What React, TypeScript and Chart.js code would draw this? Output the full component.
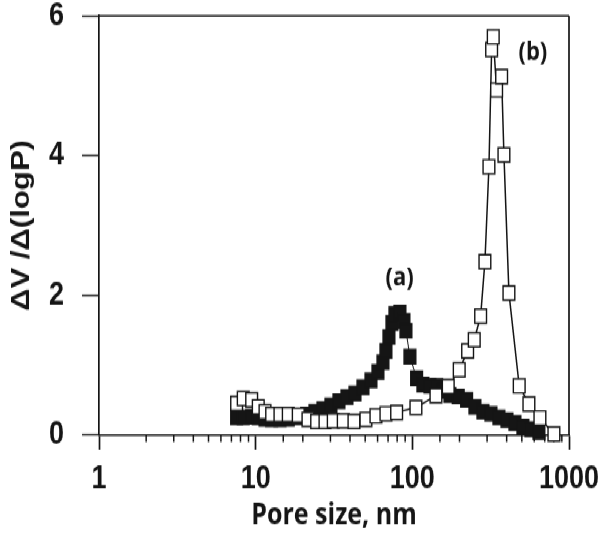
import React, { useEffect, useRef } from "react";
import { Chart, registerables } from "chart.js";

Chart.register(...registerables);

// Series (a): filled squares
const poreSizeA = [
  7.56, 8.33, 9.43, 10.39, 11.47, 12.65, 14.29, 16.15, 18.7, 21.16, 23.9, 26.89,
  30.23, 34.01, 38.25, 43.03, 48.4, 54.43, 60.33, 64.93, 67.84, 70.9, 74.1, 77.44,
  83.35, 88.39, 91.03, 96.54, 106.5, 116.8, 129.5, 142.9, 156.8, 173.8, 196.3,
  222.1, 250.9, 282.2, 317.5, 357.0, 401.7, 451.7, 508.0, 571.3, 642.6,
];
const dvA = [
  0.25, 0.25, 0.26, 0.25, 0.23, 0.22, 0.22, 0.23, 0.25, 0.29, 0.33, 0.37,
  0.42, 0.48, 0.54, 0.59, 0.68, 0.78, 0.9, 1.04, 1.2, 1.4, 1.6, 1.73,
  1.75, 1.63, 1.49, 1.12, 0.81, 0.72, 0.7, 0.7, 0.63, 0.57, 0.55,
  0.5, 0.4, 0.33, 0.3, 0.25, 0.21, 0.17, 0.12, 0.08, 0.04,
];

// Series (b): open squares with line
const poreSizeB = [
  7.56, 8.33, 9.43, 10.39, 11.47, 12.65, 14.29, 16.15, 18.7, 21.57, 24.51, 27.7,
  31.28, 36.23, 42.4, 50.56, 58.57, 67.84, 79.4, 105.4, 141.5, 169.5, 199.2,
  225.4, 248.4, 272.9, 290.6, 308.3, 320.7, 328.4, 345.1, 371.5, 384.3, 413.6,
  481.1, 554.7, 652.2, 801.1,
];
const dvB = [
  0.45, 0.52, 0.5, 0.4, 0.33, 0.29, 0.29, 0.29, 0.28, 0.22, 0.19, 0.19,
  0.2, 0.2, 0.19, 0.22, 0.27, 0.3, 0.32, 0.39, 0.56, 0.69, 0.93,
  1.2, 1.36, 1.7, 2.48, 3.84, 5.52, 5.7, 4.94, 5.13, 4.01, 2.03,
  0.7, 0.44, 0.24, 0.01,
];

const xTickLabels = [1, 10, 100, 1000];
const yTickStep = 2;
const xTitle = "Pore size, nm";
const yTitle = "\u0394V /\u0394(logP)";
const seriesLabels = ["(a)", "(b)"];
const seriesLabelAt = [
  { x: 83, y: 2.24 },
  { x: 588, y: 5.47 },
];

const W = 600;
const H = 446;
const SY = 535 / H;
const INK = "#151515";

const isPow10 = (v: number) => {
  const l = Math.log10(v);
  return Math.abs(l - Math.round(l)) < 1e-9;
};

const framePlugin = {
  id: "frame",
  beforeDatasetsDraw(chart: any) {
    const { ctx, chartArea, scales } = chart;
    const { left, right, top, bottom } = chartArea;
    const x = scales.x;
    const y = scales.y;
    ctx.save();
    ctx.strokeStyle = INK;
    ctx.lineWidth = 1.4;
    ctx.beginPath();
    ctx.moveTo(left, top);
    ctx.lineTo(right, top);
    ctx.stroke();
    ctx.lineWidth = 1.7;
    ctx.beginPath();
    ctx.moveTo(right, top);
    ctx.lineTo(right, bottom);
    ctx.stroke();
    ctx.lineWidth = 1.5;
    for (const t of x.ticks) {
      if (isPow10(t.value)) continue;
      const px = x.getPixelForValue(t.value);
      ctx.beginPath();
      ctx.moveTo(px, bottom);
      ctx.lineTo(px, bottom + 6);
      ctx.stroke();
    }
    ctx.fillStyle = INK;
    ctx.font = 'bold 22px "Open Sans"';
    ctx.textAlign = "center";
    ctx.textBaseline = "middle";
    seriesLabels.forEach((s, i) => {
      ctx.fillText(
        s,
        x.getPixelForValue(seriesLabelAt[i].x),
        y.getPixelForValue(seriesLabelAt[i].y)
      );
    });
    ctx.restore();
  },
};

export default function App() {
  const ref = useRef<HTMLCanvasElement | null>(null);
  useEffect(() => {
    if (!ref.current) return;
    const toPts = (xs: number[], ys: number[]) => xs.map((v, i) => ({ x: v, y: ys[i] }));
    const chart = new Chart(ref.current, {
      type: "scatter",
      data: {
        datasets: [
          {
            label: "b",
            data: toPts(poreSizeB, dvB),
            showLine: true,
            borderColor: INK,
            borderWidth: 1.5,
            pointStyle: "rect",
            pointRadius: 8.3,
            pointBackgroundColor: "#ffffff",
            pointBorderColor: INK,
            pointBorderWidth: 1.4,
            order: 0,
            clip: false,
          } as any,
          {
            label: "a",
            data: toPts(poreSizeA, dvA),
            showLine: true,
            borderColor: INK,
            borderWidth: 1,
            pointStyle: "rect",
            pointRadius: 8.3,
            pointBackgroundColor: INK,
            pointBorderColor: INK,
            pointBorderWidth: 1.4,
            order: 1,
            clip: false,
          } as any,
        ],
      },
      options: {
        responsive: false,
        animation: false,
        devicePixelRatio: 1,
        layout: { padding: { top: 13.3, right: 31, left: 0, bottom: 0 } },
        plugins: { legend: { display: false }, tooltip: { enabled: false } },
        scales: {
          x: {
            type: "logarithmic",
            min: 1,
            max: 1000,
            afterFit: (s: any) => {
              s.height = H - 362.5;
              s.paddingLeft = 0;
              s.paddingRight = 0;
            },
            ticks: {
              autoSkip: false,
              maxRotation: 0,
              minRotation: 0,
              padding: 8,
              color: INK,
              font: { family: '"Liberation Sans", Arial, sans-serif', size: 27, weight: "bold" },
              callback: (v: any) => (xTickLabels.includes(Number(v)) ? String(v) : ""),
            },
            grid: {
              drawOnChartArea: false,
              drawTicks: true,
              tickLength: 12.5,
              tickWidth: 1.7,
              tickColor: (c: any) => (c.tick && isPow10(c.tick.value) ? INK : "rgba(0,0,0,0)"),
            },
            border: { display: true, color: INK, width: 1.4 },
            title: {
              display: true,
              text: xTitle,
              color: INK,
              font: { family: '"Open Sans", sans-serif', size: 25, weight: "bold" },
              padding: { top: 0, bottom: 1 },
            },
          },
          y: {
            type: "linear",
            min: 0,
            max: 6,
            afterFit: (s: any) => {
              s.width = 99;
              s.paddingTop = 0;
              s.paddingBottom = 0;
            },
            ticks: {
              stepSize: yTickStep,
              padding: 18,
              color: INK,
              font: { family: '"Liberation Sans", Arial, sans-serif', size: 27, weight: "bold" },
            },
            grid: {
              drawOnChartArea: false,
              drawTicks: true,
              tickLength: 17,
              tickWidth: 1.4,
              tickColor: INK,
            },
            border: { display: true, color: INK, width: 1.7 },
            title: {
              display: true,
              text: yTitle,
              color: INK,
              font: { family: '"Liberation Sans", Arial, sans-serif', size: 26, weight: "bold" },
              padding: { top: 6, bottom: 0 },
            },
          },
        },
      },
      plugins: [framePlugin],
    });
    return () => chart.destroy();
  }, []);

  return (
    <div
      style={{
        position: "absolute",
        left: 0,
        top: 0,
        width: W,
        height: H,
        transform: `scaleY(${SY})`,
        transformOrigin: "0 0",
        background: "#fff",
      }}
    >
      <canvas ref={ref} width={W} height={H} style={{ display: "block" }} />
    </div>
  );
}
